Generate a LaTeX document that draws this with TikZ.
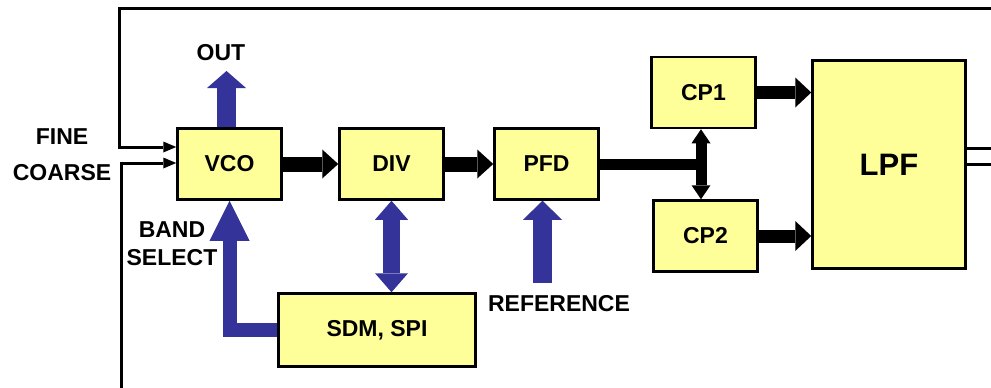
\documentclass[tikz,border=0pt]{standalone}
\usepackage{fontspec}
\setmainfont{Liberation Sans}
\usetikzlibrary{arrows.meta}

\definecolor{boxyellow}{RGB}{255,255,153}
\definecolor{arrowblue}{RGB}{51,51,153}

\tikzset{
  block/.style={draw, line width=2.5pt, fill=boxyellow, minimum width=104pt,
    minimum height=71pt, inner sep=0pt, font=\fontsize{23}{27}\selectfont\bfseries},
  lbl/.style={font=\fontsize{23}{28}\selectfont\bfseries, inner sep=0pt},
  wire/.style={line width=3pt, line join=miter},
  wirearrow/.style={wire, -{Triangle[width=11pt,length=13pt,line width=0pt]}},
  fatarrow/.style={line width=15pt, -{Triangle[width=29pt,length=16pt,line width=0pt]}},
  cparrow/.style={line width=13pt, -{Triangle[width=30pt,length=16pt,line width=0pt]}},
  splitarrow/.style={line width=11pt,
    {Triangle[width=19pt,length=14pt,line width=0pt]}-{Triangle[width=19pt,length=14pt,line width=0pt]}},
  bluearrow/.style={draw=arrowblue, line width=19pt, line join=miter,
    -{Triangle[width=39pt,length=17pt,line width=0pt]}},
}

\begin{document}
\begin{tikzpicture}[x=1pt,y=-1pt]
  \useasboundingbox (0,0) rectangle (991,388);
  % blocks
  \node[block] (vco) at (229.5,164) {VCO};
  \node[block] (div) at (391.5,164) {DIV};
  \node[block] (pfd) at (546.5,164) {PFD};
  \node[block] (cp1) at (703.5,92.5) {CP1};
  \node[block] (cp2) at (705.5,236) {CP2};
  \node[block, minimum width=153pt, minimum height=208pt,
    font=\fontsize{31}{34}\selectfont\bfseries] (lpf) at (889,164.5) {LPF};
  \node[block, minimum width=197pt, minimum height=73pt] (sdm) at (377,330) {SDM, SPI};
  % labels
  \node[lbl] (fine) at (62,137) {FINE};
  \node[lbl] (coarse) at (62,173) {COARSE};
  \node[lbl] (out) at (221,53) {OUT};
  \node[lbl, align=center] (band) at (172,244) {BAND\\SELECT};
  \node[lbl] (ref) at (559,304) {REFERENCE};
  % free ends
  \coordinate (fbtop) at (991,8);
  \coordinate (finein) at (119,147);
  \coordinate (crsbot) at (121,388);
  \coordinate (crsin) at (121,163);
  \coordinate (lpfo1) at (991,148);
  \coordinate (lpfo2) at (991,164);
  \coordinate (jn) at (701,164);
  \coordinate (outtip) at (226.5,71);
  \coordinate (refin) at (542.5,283);
  % tuning inputs
  \draw[wirearrow] (fbtop) -| (finein) -- (finein -| vco.west);
  \draw[wirearrow] (crsbot) -- (crsin) -- (crsin -| vco.west);
  \draw[wire] (lpf.east |- lpfo1) -- (lpfo1);
  \draw[wire] (lpf.east |- lpfo2) -- (lpfo2);
  % main path
  \draw[fatarrow] (vco.east) -- (div.west);
  \draw[fatarrow] (div.east) -- (pfd.west);
  \draw[line width=11pt] (pfd.east) -- (jn);
  \draw[splitarrow] (jn |- cp1.south) -- (jn |- cp2.north);
  \draw[cparrow] (cp1.east) -- (cp1.east -| lpf.west);
  \draw[cparrow] (cp2.east) -- (cp2.east -| lpf.west);
  % control
  \draw[bluearrow] (vco.north -| outtip) -- (outtip);
  \draw[bluearrow, line width=17pt,
    {Triangle[width=33pt,length=19pt,line width=0pt]}-{Triangle[width=33pt,length=19pt,line width=0pt]}]
    (div.south) -- (div.south |- sdm.north);
  \draw[bluearrow, -{Triangle[width=39pt,length=19pt,line width=0pt]}] (refin) -- (refin |- pfd.south);
  \draw[bluearrow, line width=14pt, -{Triangle[width=40pt,length=40pt,line width=0pt]}]
    (sdm.west) -| (vco.south);
\end{tikzpicture}
\end{document}
